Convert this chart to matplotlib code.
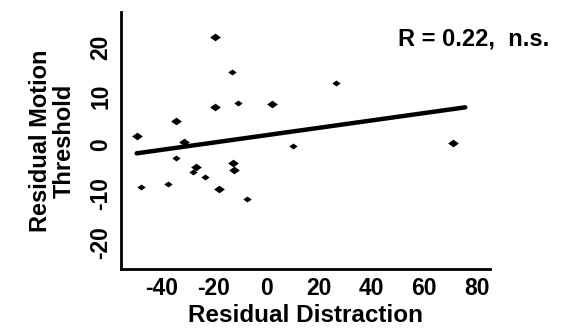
"""
Residual distraction vs residual motion threshold scatter, with regression line.
"""

import numpy as np
import matplotlib.pyplot as plt

OUTPUT = "out.png"

# values
distraction = [-19.6, -13.2, 26.3, -10.7, -19.6, 2.2, -34.4, -49.4, -31.3, 10.0,
               71.1, -34.4, -26.8, -27.9, -23.3, -12.9, -12.4, -47.9, -37.5, -18.1, -7.5]
motion = [22.2, 14.9, 12.6, 8.6, 7.7, 8.4, 4.9, 1.9, 0.6, -0.2,
          0.4, -2.8, -4.5, -5.6, -6.6, -3.8, -5.2, -8.7, -8.0, -9.0, -11.2]
big = [1, 0, 0, 0, 1, 1, 1, 1, 1, 0, 1, 0, 1, 0, 0, 1, 1, 0, 0, 1, 0]

fit_slope = 0.0756
fit_intercept = 1.98
fit_range = [-49.4, 75.6]

x_ticks = [-40, -20, 0, 20, 40, 60, 80]
y_ticks = [-20, -10, 0, 10, 20]
annotation = "R = 0.22,  n.s."


def main():
    plt.rcParams["font.family"] = ["Liberation Sans", "DejaVu Sans"]
    plt.rcParams["font.weight"] = "bold"
    plt.rcParams["axes.unicode_minus"] = False

    fig = plt.figure(figsize=(5.84, 3.30), dpi=100)
    ax = fig.add_axes([0.207, 0.185, 0.632, 0.779])

    # slightly flattened diamond like the printed marks
    diamond = [(-1.4, 0), (0, 1), (1.4, 0), (0, -1), (-1.4, 0)]
    x = np.array(distraction)
    y = np.array(motion)
    b = np.array(big, dtype=bool)
    ax.scatter(x[b], y[b], marker=diamond, s=60, color="black", linewidths=0)
    ax.scatter(x[~b], y[~b], marker=diamond, s=36, color="black", linewidths=0)

    xs = np.array(fit_range)
    ax.plot(xs, fit_intercept + fit_slope * xs, color="black", lw=3.2,
            solid_capstyle="round")

    ax.set_xlim(-55.4, 85)
    ax.set_ylim(-25.5, 27.3)
    ax.set_xticks(x_ticks)
    ax.set_yticks(y_ticks)
    ax.tick_params(length=0, labelsize=16.5)
    ax.tick_params(axis="x", pad=6)
    ax.tick_params(axis="y", pad=6)
    for lab in ax.get_yticklabels():
        lab.set_rotation(90)
        lab.set_va("center")

    for side in ("top", "right"):
        ax.spines[side].set_visible(False)
    for side in ("left", "bottom"):
        ax.spines[side].set_linewidth(2)

    ax.set_xlabel("Residual Distraction", fontsize=17.5, fontweight="bold", labelpad=3)
    ax.set_ylabel("Residual Motion\nThreshold", fontsize=17, fontweight="bold",
                  labelpad=10, linespacing=1.05)

    ax.text(1.16, 0.895, annotation, transform=ax.transAxes, ha="right", va="center",
            fontsize=17, fontweight="bold", clip_on=False)

    fig.savefig(OUTPUT, dpi=100)
    plt.close(fig)


if __name__ == "__main__":
    main()
